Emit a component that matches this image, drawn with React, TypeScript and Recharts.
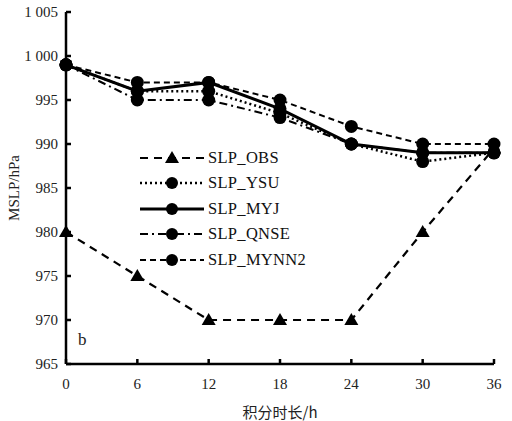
import React from "react"
import {
  LineChart,
  Line,
  XAxis,
  YAxis,
  Label,
} from "recharts"

const hours = [0, 6, 12, 18, 24, 30, 36]
const obs = [980, 975, 970, 970, 970, 980, 989.5]
const ysu = [999, 996, 996, 993.5, 990, 988, 989]
const myj = [999, 996, 997, 994, 990, 989, 989]
const qnse = [999, 995, 995, 993, 990, 989, 989]
const mynn2 = [999, 997, 997, 995, 992, 990, 990]
const yTicks = [965, 970, 975, 980, 985, 990, 995, 1000, 1005]

const data = hours.map((h, i) => ({
  h,
  obs: obs[i],
  ysu: ysu[i],
  myj: myj[i],
  qnse: qnse[i],
  mynn2: mynn2[i],
}))

const serif = "Liberation Serif"

const series = [
  { key: "obs", name: "SLP_OBS", dash: "8 6", width: 2.2, tri: true },
  { key: "ysu", name: "SLP_YSU", dash: "2 3", width: 2.5, tri: false },
  { key: "myj", name: "SLP_MYJ", dash: undefined, width: 3, tri: false },
  { key: "qnse", name: "SLP_QNSE", dash: "8 4 2 4", width: 2, tri: false },
  { key: "mynn2", name: "SLP_MYNN2", dash: "6 4", width: 2, tri: false },
]

const Triangle = (props: any) => {
  const { cx, cy } = props
  if (cx == null || cy == null) return null
  return <path d={`M${cx},${cy - 7} L${cx + 7},${cy + 5} L${cx - 7},${cy + 5} Z`} fill="#000" />
}

const LegendBox = () => (
  <div style={{ position: "absolute", left: 140, top: 145, fontFamily: serif, fontSize: 16.5, color: "#111" }}>
    {series.map((s) => (
      <div key={s.key} style={{ display: "flex", alignItems: "center", height: 25.5 }}>
        <svg width={66} height={16}>
          <line x1={0} y1={8} x2={64} y2={8} stroke="#000" strokeWidth={s.width} strokeDasharray={s.dash} />
          {s.tri ? (
            <path d="M32,1 L39,13 L25,13 Z" fill="#000" />
          ) : (
            <circle cx={32} cy={8} r={6} fill="#000" />
          )}
        </svg>
        <span style={{ marginLeft: 2, letterSpacing: 0.3 }}>{s.name}</span>
      </div>
    ))}
  </div>
)

export default function App() {
  return (
    <div style={{ position: "absolute", left: 0, top: 0, width: 512, height: 421, background: "#fff" }}>
      <LineChart width={512} height={421} data={data} margin={{ top: 12, right: 18, left: 0, bottom: 0 }}>
        <XAxis
          dataKey="h"
          type="number"
          domain={[0, 36]}
          ticks={hours}
          height={57}
          stroke="#000"
          strokeWidth={2.5}
          tickSize={-5}
          tickMargin={19}
          tick={{ fill: "#222", fontSize: 15, fontFamily: serif }}
        >
          <Label
            value="积分时长/h"
            position="insideBottom"
            offset={3}
            style={{ fill: "#222", fontSize: 15, fontFamily: "Noto Sans CJK SC" }}
          />
        </XAxis>
        <YAxis
          domain={[965, 1005]}
          ticks={yTicks}
          width={66}
          stroke="#000"
          strokeWidth={2.5}
          tickSize={-5}
          tickMargin={13}
          interval={0}
          tickFormatter={(v: number) => (v >= 1000 ? `1 ${String(v).slice(1)}` : String(v))}
          tick={{ fill: "#222", fontSize: 15, fontFamily: serif }}
        >
          <Label
            value="MSLP/hPa"
            angle={-90}
            position="insideLeft"
            offset={14}
            style={{ fill: "#222", fontSize: 15, fontFamily: serif, textAnchor: "middle" }}
          />
        </YAxis>
        {series.map((s) => (
          <Line
            key={s.key}
            dataKey={s.key}
            name={s.name}
            stroke="#000"
            strokeWidth={s.width}
            strokeDasharray={s.dash}
            dot={s.tri ? <Triangle /> : { r: 6.5, fill: "#000", stroke: "none" }}
            isAnimationActive={false}
          />
        ))}
      </LineChart>
      <LegendBox />
      <div style={{ position: "absolute", left: 78, top: 330, fontFamily: serif, fontSize: 17, color: "#222" }}>b</div>
    </div>
  )
}
